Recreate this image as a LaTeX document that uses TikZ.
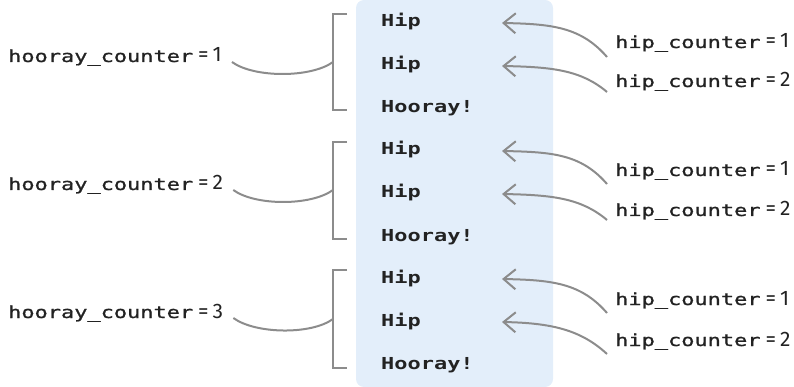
\documentclass[tikz,border=0pt]{standalone}
\usepackage{fontspec}
\usepackage{graphicx}
\setmainfont{Fira Sans}
\newfontfamily\codefont{DejaVu Sans Mono}
\newfontfamily\labelfont[FakeBold=0.9]{DejaVu Sans Mono}
\newfontfamily\eqfont{Fira Sans}
\usetikzlibrary{arrows.meta}
\definecolor{panelblue}{HTML}{E3EEFA}
\definecolor{linegray}{HTML}{8C8C8C}
\definecolor{inkdark}{HTML}{222222}
\newcommand{\widecode}[1]{\scalebox{1.33}[1]{#1}}
\newcommand{\eqval}[1]{{\eqfont\fontsize{21}{22}\selectfont\hspace{5pt}=\hspace{4pt}#1}}
\tikzset{
  codeline/.style={anchor=base west,inner sep=0pt,text=inkdark,font=\codefont\fontsize{16.5}{20}\selectfont\bfseries},
  countlabel/.style={anchor=base west,inner sep=0pt,text=inkdark,font=\labelfont\fontsize{16.5}{20}\selectfont},
  bracketline/.style={linegray,line width=2pt},
  linkcurve/.style={linegray,line width=2pt},
  hiparrow/.style={linegray,line width=2pt,-{Straight Barb[length=12pt,width=20pt]}},
}
\begin{document}
\begin{tikzpicture}[x=1pt,y=1pt]
  \useasboundingbox (0,0) rectangle (794,-387);
  % output panel
  \fill[panelblue,rounded corners=8pt] (356,0) rectangle (553,-387);
  % printed lines
  \node[codeline] (hipa1) at (381,-27) {\widecode{Hip}};
  \node[codeline] (hipb1) at (381,-70) {\widecode{Hip}};
  \node[codeline] (hoo1)  at (381,-113) {\widecode{Hooray!}};
  \node[codeline] (hipa2) at (381,-155) {\widecode{Hip}};
  \node[codeline] (hipb2) at (381,-198) {\widecode{Hip}};
  \node[codeline] (hoo2)  at (381,-241) {\widecode{Hooray!}};
  \node[codeline] (hipa3) at (381,-283) {\widecode{Hip}};
  \node[codeline] (hipb3) at (381,-326) {\widecode{Hip}};
  \node[codeline] (hoo3)  at (381,-369) {\widecode{Hooray!}};
  % outer loop labels and brackets
  \node[countlabel] (hc1) at (8,-62) {\widecode{hooray\_counter}\eqval{1}};
  \node[countlabel] (hc2) at (8,-190) {\widecode{hooray\_counter}\eqval{2}};
  \node[countlabel] (hc3) at (8,-318) {\widecode{hooray\_counter}\eqval{3}};
  \coordinate (brk1) at (333,-62);
  \coordinate (brk2) at (333,-190);
  \coordinate (brk3) at (333,-319);
  \draw[bracketline] (347,-14) -- (333,-14) -- (333,-110) -- (347,-110);
  \draw[bracketline] (347,-142) -- (333,-142) -- (333,-239) -- (347,-239);
  \draw[bracketline] (347,-270) -- (333,-270) -- (333,-368) -- (347,-368);
  \draw[linkcurve] ([xshift=10pt]hc1.base east) .. controls +(22,-16) and +(-22,-16) .. (brk1);
  \draw[linkcurve] ([xshift=10pt]hc2.base east) .. controls +(22,-16) and +(-22,-16) .. (brk2);
  \draw[linkcurve] ([xshift=10pt]hc3.base east) .. controls +(22,-16) and +(-22,-16) .. (brk3);
  % inner loop labels and arrows
  \node[countlabel] (ic11) at (615,-48) {\widecode{hip\_counter}\eqval{1}};
  \node[countlabel] (ic12) at (615,-87) {\widecode{hip\_counter}\eqval{2}};
  \node[countlabel] (ic21) at (615,-176) {\widecode{hip\_counter}\eqval{1}};
  \node[countlabel] (ic22) at (615,-216) {\widecode{hip\_counter}\eqval{2}};
  \node[countlabel] (ic31) at (615,-305) {\widecode{hip\_counter}\eqval{1}};
  \node[countlabel] (ic32) at (615,-346) {\widecode{hip\_counter}\eqval{2}};
  \draw[hiparrow] ([shift={(-8pt,-9pt)}]ic11.base west) .. controls +(-26,30) and +(50,-1) .. ([shift={(121pt,4pt)}]hipa1.base west);
  \draw[hiparrow] ([shift={(-8pt,-5pt)}]ic12.base west) .. controls +(-26,22) and +(50,-1) .. ([shift={(121pt,4pt)}]hipb1.base west);
  \draw[hiparrow] ([shift={(-8pt,-8pt)}]ic21.base west) .. controls +(-26,30) and +(50,-1) .. ([shift={(121pt,4pt)}]hipa2.base west);
  \draw[hiparrow] ([shift={(-8pt,-4pt)}]ic22.base west) .. controls +(-26,22) and +(50,-1) .. ([shift={(121pt,4pt)}]hipb2.base west);
  \draw[hiparrow] ([shift={(-8pt,-8pt)}]ic31.base west) .. controls +(-26,30) and +(50,-1) .. ([shift={(121pt,4pt)}]hipa3.base west);
  \draw[hiparrow] ([shift={(-8pt,-8pt)}]ic32.base west) .. controls +(-26,24) and +(50,-1) .. ([shift={(121pt,4pt)}]hipb3.base west);
\end{tikzpicture}
\end{document}
